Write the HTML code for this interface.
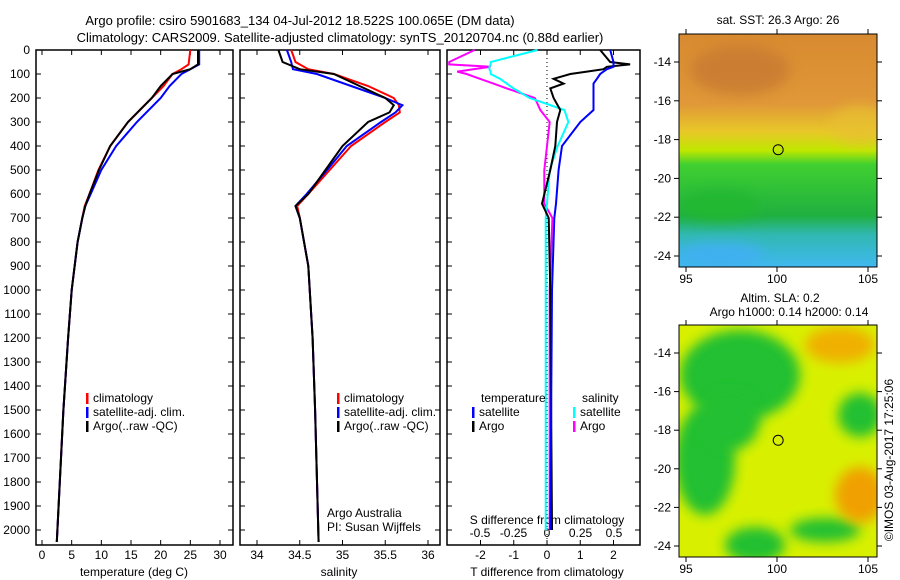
<!DOCTYPE html>
<html><head><meta charset="utf-8"><style>
body{margin:0;background:#fff}
svg{display:block;font-family:"Liberation Sans",sans-serif;font-size:12px}
</style></head><body>
<svg id="c" width="900" height="580">
<defs>
<linearGradient id="sstg" x1="0" y1="0" x2="0" y2="1">
<stop offset="0" stop-color="#d88a30"/><stop offset="0.3" stop-color="#e09838"/>
<stop offset="0.42" stop-color="#e8c828"/><stop offset="0.5" stop-color="#c0e800"/>
<stop offset="0.56" stop-color="#40d030"/><stop offset="0.78" stop-color="#20b040"/>
<stop offset="0.86" stop-color="#30b8b0"/><stop offset="1" stop-color="#40b8f0"/>
</linearGradient>
<filter id="bl" x="-50%" y="-50%" width="200%" height="200%"><feGaussianBlur stdDeviation="6"/></filter>
<clipPath id="cm1"><rect x="679" y="34" width="198" height="233"/></clipPath>
<clipPath id="cm2"><rect x="679" y="325" width="198" height="232"/></clipPath>
</defs>
<text x="300" y="25" text-anchor="middle" font-size="13">Argo profile: csiro 5901683_134 04-Jul-2012 18.522S 100.065E (DM data)</text>
<text x="340" y="42" text-anchor="middle" font-size="13">Climatology: CARS2009. Satellite-adjusted climatology: synTS_20120704.nc (0.88d earlier)</text>

<g clip-path="url(#cm1)">
<rect x="679" y="34" width="198" height="233" fill="url(#sstg)"/>
<ellipse cx="740" cy="70" rx="50" ry="25" fill="#c87a30" filter="url(#bl)" opacity="0.8"/>
<ellipse cx="860" cy="125" rx="30" ry="20" fill="#e8c030" filter="url(#bl)" opacity="0.7"/>
<ellipse cx="720" cy="205" rx="40" ry="15" fill="#20b830" filter="url(#bl)"/>
<ellipse cx="720" cy="255" rx="45" ry="12" fill="#40b0f0" filter="url(#bl)"/>
</g>
<g clip-path="url(#cm2)">
<rect x="679" y="325" width="198" height="232" fill="#d8f000"/>
<ellipse cx="740" cy="375" rx="60" ry="45" fill="#20c030" filter="url(#bl)"/>
<ellipse cx="705" cy="460" rx="30" ry="55" fill="#20c030" filter="url(#bl)"/>
<ellipse cx="730" cy="420" rx="30" ry="30" fill="#20c030" filter="url(#bl)"/>
<ellipse cx="860" cy="415" rx="22" ry="22" fill="#20c030" filter="url(#bl)"/>
<ellipse cx="755" cy="545" rx="30" ry="18" fill="#20c030" filter="url(#bl)"/>
<ellipse cx="825" cy="530" rx="35" ry="12" fill="#20c030" filter="url(#bl)"/>
<ellipse cx="840" cy="345" rx="35" ry="18" fill="#f0b000" filter="url(#bl)"/>
<ellipse cx="860" cy="495" rx="25" ry="28" fill="#f0a000" filter="url(#bl)"/>
</g>
<g id="plots"></g>
</svg>
<script>
// depth grid (m)
const depT=[0,60,80,100,150,200,300,400,500,600,650,700,800,1000,1200,1500,1800,2050];
const tClim=[25,24.7,23.5,22,20.5,18.5,14.5,11.5,9.5,8,7.2,6.8,6,5,4.4,3.6,3,2.5];
const tSat=[26.5,26.5,25,23.5,21.5,20,16,12.5,10,8.2,7.3,6.8,6,5,4.4,3.6,3,2.5];
const tArgo=[26.3,26.3,25,22,20,18.5,14.5,11.5,9.6,8,7.3,6.8,6,5,4.4,3.6,3,2.5];
const depS=[0,50,80,100,150,200,230,260,300,400,500,600,650,700,900,1200,1500,2050];
const sClim=[34.4,34.45,34.6,34.9,35.3,35.6,35.66,35.67,35.5,35.1,34.85,34.6,34.47,34.5,34.6,34.65,34.68,34.72];
const sSat=[34.35,34.4,34.42,34.7,35.1,35.5,35.7,35.62,35.45,35.05,34.82,34.58,34.45,34.5,34.6,34.65,34.68,34.72];
const sArgo=[34.25,34.3,34.5,34.9,35.2,35.5,35.6,35.55,35.3,35,34.8,34.6,34.45,34.5,34.6,34.65,34.68,34.72];
const depD=[0,50,60,70,80,90,100,120,140,160,200,250,300,400,500,640,700,1000,2000];
const dTsat=[1.9,2.0,2.0,2.0,1.8,1.7,1.6,1.5,1.4,1.4,1.4,1.4,1.0,0.45,0.35,0.27,0.22,0.15,0.1];
const dTargo=[1.6,1.9,2.5,1.8,1.7,1.2,0.7,0.2,0.5,0.1,0.2,0.4,0.3,0.25,0.1,-0.15,0.05,0.1,0.15];
const dSsat=[-0.07,-0.42,-0.42,-0.43,-0.43,-0.42,-0.42,-0.35,-0.3,-0.25,-0.13,0.13,0.16,0.08,0.02,0.0,-0.01,-0.01,-0.01];
const dSargo=[-0.54,-0.73,-0.73,-0.42,-0.55,-0.67,-0.6,-0.5,-0.4,-0.3,-0.09,-0.05,0.02,0.0,-0.02,-0.02,0.04,0.02,0.02];
const depTicks=[0,100,200,300,400,500,600,700,800,900,1000,1100,1200,1300,1400,1500,1600,1700,1800,1900,2000];
const tTicks=[0,5,10,15,20,25,30];
const sTicks=[34,34.5,35,35.5,36];
const dtTicks=[-2,-1,0,1,2];
const dsTicks=[-0.5,-0.25,0,0.25,0.5];
const dsLabels=["-0.5","-0.25","0","0.25","0.5"];

const NS='http://www.w3.org/2000/svg';
const G=document.getElementById('plots');
function el(t,a,p){const e=document.createElementNS(NS,t);for(const k in a)e.setAttribute(k,a[k]);(p||G).appendChild(e);return e;}
const Y=d=>50+d*0.24;
function linear(d0,d1,r0,r1){return v=>r0+(v-d0)*(r1-r0)/(d1-d0);}
const xT=linear(0,30,42,220), xS=linear(34,36,257,428), xDT=linear(0,2,547,613.5), xDS=linear(0,0.5,547,614);
function frame(x0,x1,name){const r=el('rect',{x:x0,y:50,width:x1-x0,height:495,fill:'none',stroke:'#000','stroke-width':1.5});}
function line(xs,ds,sx,col,name,w){const p=el('polyline',{points:xs.map((v,i)=>sx(v).toFixed(1)+','+Y(ds[i]).toFixed(1)).join(' '),fill:'none',stroke:col,'stroke-width':w||2});}
function txt(x,y,s,anchor,name,extra){const t=el('text',Object.assign({x:x,y:y,'text-anchor':anchor||'start'},extra||{}));t.textContent=s;return t;}
function xticks(ticks,sx,labels,ty,name){ticks.forEach((v,i)=>{el('line',{x1:sx(v),x2:sx(v),y1:545,y2:540,stroke:'#000'});el('line',{x1:sx(v),x2:sx(v),y1:50,y2:55,stroke:'#000'});txt(sx(v),ty,labels?labels[i]:String(v),'middle',name);});}
// panel 1
frame(36,233,'temperature-panel');
depTicks.forEach(d=>{el('line',{x1:36,x2:41,y1:Y(d),y2:Y(d),stroke:'#000'});el('line',{x1:228,x2:233,y1:Y(d),y2:Y(d),stroke:'#000'});txt(30,Y(d)+4,String(d),'end','depth-tick-label');});
xticks(tTicks,xT,null,559,'temperature-tick-label');
txt(134,576,'temperature (deg C)','middle','temperature-axis-title');
line(tClim,depT,xT,'#f00','temperature-climatology-line');
line(tSat,depT,xT,'#00f','temperature-satellite-line');
line(tArgo,depT,xT,'#000','temperature-argo-line');
// panel 2
frame(240,440,'salinity-panel');
depTicks.forEach(d=>{el('line',{x1:240,x2:245,y1:Y(d),y2:Y(d),stroke:'#000'});el('line',{x1:435,x2:440,y1:Y(d),y2:Y(d),stroke:'#000'});});
xticks(sTicks,xS,null,559,'salinity-tick-label');
txt(339,576,'salinity','middle','salinity-axis-title');
line(sClim,depS,xS,'#f00','salinity-climatology-line');
line(sSat,depS,xS,'#00f','salinity-satellite-line');
line(sArgo,depS,xS,'#000','salinity-argo-line');
txt(327,517,'Argo Australia','start','argo-australia-label');
txt(327,531,'PI: Susan Wijffels','start','pi-label');
// panel 3
frame(447,640,'difference-panel');
depTicks.forEach(d=>{el('line',{x1:447,x2:452,y1:Y(d),y2:Y(d),stroke:'#000'});el('line',{x1:635,x2:640,y1:Y(d),y2:Y(d),stroke:'#000'});});
el('line',{x1:547,x2:547,y1:50,y2:545,stroke:'#000','stroke-dasharray':'1,3'});
xticks(dtTicks,xDT,null,559,'t-diff-tick-label');
dsTicks.forEach((v,i)=>txt(xDS(v),537,dsLabels[i],'middle','s-diff-tick-label'));
txt(547,524,'S difference from climatology','middle','s-diff-axis-title');
txt(547,576,'T difference from climatology','middle','t-diff-axis-title');
line(dSargo,depD,xDS,'#f0f','s-diff-argo-line');
line(dSsat,depD,xDS,'#0ff','s-diff-satellite-line');
line(dTargo,depD,xDT,'#000','t-diff-argo-line');
line(dTsat,depD,xDT,'#00f','t-diff-satellite-line');
// legends
function leg(x,y,col,s,name){el('rect',{x:x,y:y-9,width:2.5,height:11,fill:col});txt(x+7,y,s,'start',name);}
leg(86,402,'#f00','climatology','legend-climatology');
leg(86,416,'#00f','satellite-adj. clim.','legend-satellite');
leg(86,430,'#000','Argo(..raw -QC)','legend-argo');
leg(337,402,'#f00','climatology','legend2-climatology');
leg(337,416,'#00f','satellite-adj. clim.','legend2-satellite');
leg(337,430,'#000','Argo(..raw -QC)','legend2-argo');
txt(481,402,'temperature','start','legend-temperature-header');
txt(582,402,'salinity','start','legend-salinity-header');
leg(472,416,'#00f','satellite','legend-t-satellite');
leg(472,430,'#000','Argo','legend-t-argo');
leg(573,416,'#0ff','satellite','legend-s-satellite');
leg(573,430,'#f0f','Argo','legend-s-argo');
// maps
const lats=[-14,-16,-18,-20,-22,-24], lons=[95,100,105];
function map(y0,y1,lat14,lat24,name){
 el('rect',{x:679,y:y0,width:198,height:y1-y0,fill:'none',stroke:'#000'});
 const ly=linear(-14,-24,lat14,lat24), lx=linear(95,105,686,868);
 lats.forEach(l=>{el('line',{x1:674,x2:679,y1:ly(l),y2:ly(l),stroke:'#000'});el('line',{x1:877,x2:882,y1:ly(l),y2:ly(l),stroke:'#000'});txt(671,ly(l)+4,String(l),'end',name+'-lat-label');});
 lons.forEach(l=>{el('line',{x1:lx(l),x2:lx(l),y1:y1,y2:y1+5,stroke:'#000'});el('line',{x1:lx(l),x2:lx(l),y1:y0-5,y2:y0,stroke:'#000'});txt(lx(l),y1+16,String(l),'middle',name+'-lon-label');});
 const c=el('circle',{cx:lx(100.065),cy:ly(-18.522),r:5,fill:'none',stroke:'#000'});
}
map(34,267,62,256,'sst-map');
map(325,557,353,546,'sla-map');
txt(778,24,'sat. SST: 26.3 Argo: 26','middle','sst-map-title');
txt(780,302,'Altim. SLA: 0.2','middle','sla-map-title');
txt(789,316,'Argo h1000: 0.14 h2000: 0.14','middle','sla-map-subtitle');
txt(0,0,'©IMOS 03-Aug-2017 17:25:06','middle','timestamp',{transform:'translate(893,460) rotate(-90)'});
</script>
</body></html>
